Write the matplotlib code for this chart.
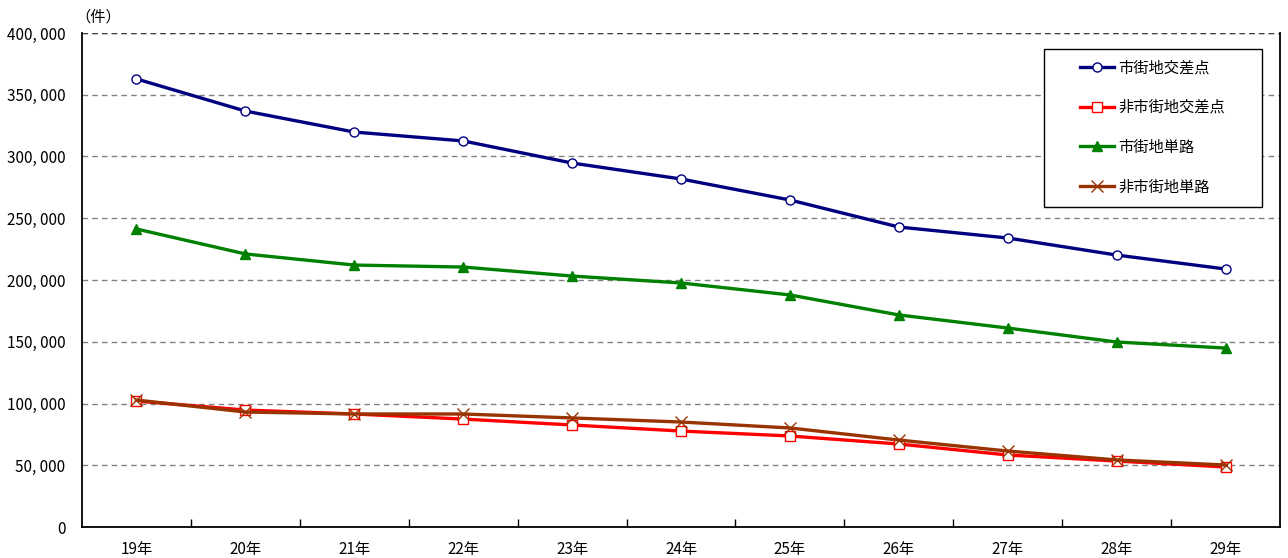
import numpy as np
import matplotlib.pyplot as plt
from matplotlib.ticker import FuncFormatter, FixedLocator
from matplotlib.patches import Rectangle

plt.rcParams['font.family'] = ['Noto Sans CJK JP', 'DejaVu Sans']

years = ["19年", "20年", "21年", "22年", "23年", "24年", "25年", "26年", "27年", "28年", "29年"]
shigaichi_kousaten = [362800, 336800, 319800, 312600, 294700, 281800, 264800, 242900, 234000, 220200, 208900]
hishigaichi_kousaten = [102000, 94700, 91500, 87400, 82600, 77700, 73700, 67200, 58300, 53400, 48600]
shigaichi_tanro = [241300, 221100, 212100, 210500, 203200, 197600, 187900, 171700, 161100, 149800, 144900]
hishigaichi_tanro = [102800, 93100, 91500, 91500, 88300, 85000, 80200, 70400, 61500, 54300, 50200]

W, H = 1288, 558
fig = plt.figure(figsize=(W / 100, H / 100), dpi=100)
ax = fig.add_axes([82 / W, 31 / H, 1198 / W, 494 / H])

x = np.arange(len(years))
ax.plot(x, shigaichi_kousaten, color="#000080", lw=2.4, marker="o", ms=6.5,
        mfc="white", mec="#000080", mew=1.0, label="市街地交差点", zorder=5)
ax.plot(x, hishigaichi_kousaten, color="#ff0000", lw=2.4, marker="s", ms=6.5,
        mfc="white", mec="#ff0000", mew=1.0, label="非市街地交差点", zorder=4)
ax.plot(x, shigaichi_tanro, color="#008000", lw=2.4, marker="^", ms=6.5,
        mfc="#008000", mec="#008000", label="市街地単路", zorder=4)
ax.plot(x, hishigaichi_tanro, color="#993300", lw=2.4, marker="x", ms=8,
        mec="#993300", mew=1.0, label="非市街地単路", zorder=4)

ax.set_xlim(-0.5, len(years) - 0.5)
ax.set_ylim(0, 400000)
ax.set_yticks(np.arange(0, 400001, 50000))
ax.yaxis.set_major_formatter(FuncFormatter(lambda v, p: f"{int(v):,}".replace(",", ", ")))
ax.set_xticks(x)
ax.set_xticklabels(years)
ax.xaxis.set_minor_locator(FixedLocator(np.arange(0.5, len(years) - 1, 1)))
ax.tick_params(axis="x", which="major", length=0, pad=10, labelsize=11)
ax.tick_params(axis="x", which="minor", length=6, direction="in", width=1)
ax.tick_params(axis="y", length=0, pad=12, labelsize=11)

ax.grid(axis="y", color="#808080", ls=(0, (4, 3)), lw=1)
ax.spines["top"].set_visible(False)
ax.axhline(400000, color="#404040", ls=(0, (4, 3)), lw=1)
for s in ["left", "bottom", "right"]:
    ax.spines[s].set_linewidth(1.3)

fig.text(75 / W, 1 - 17 / H, "（件）", fontsize=11, ha="left", va="center")

# legend box
ax.add_patch(Rectangle((1044 / W, 1 - 207 / H), 218 / W, 158 / H,
                       transform=fig.transFigure, facecolor="white",
                       edgecolor="black", lw=1.0, zorder=10, clip_on=False))
leg = ax.legend(loc="upper left", bbox_to_anchor=(1080 / W, 1 - 59 / H),
                bbox_transform=fig.transFigure, fontsize=11, frameon=False,
                labelspacing=1.5, handlelength=2.2, handletextpad=0.3,
                borderpad=0, borderaxespad=0)
leg.set_zorder(11)

fig.savefig("out.png", dpi=100)
